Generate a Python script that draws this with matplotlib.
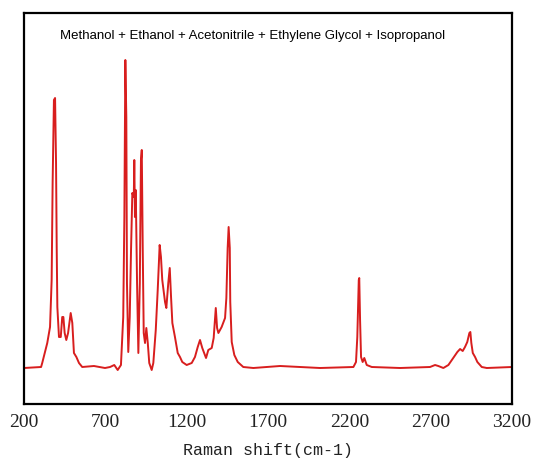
import matplotlib
matplotlib.use("Agg")
import matplotlib.pyplot as plt

# Spectre Raman du mélange
shift = [200, 305, 312, 343, 360, 370, 376, 384, 391, 397, 401, 405, 415, 426, 435, 442,
         450, 460, 471, 487, 497, 507, 522, 538, 558, 630, 698, 729, 755, 776, 796, 810,
         817, 823, 829, 833, 841, 850, 858, 866, 875, 878, 882, 887, 895, 903, 912, 919,
         924, 930, 936, 944, 952, 961, 970, 985, 995, 1010, 1022, 1034, 1042, 1050, 1067,
         1075, 1087, 1096, 1104, 1112, 1128, 1145, 1159, 1173, 1200, 1231, 1251, 1268,
         1282, 1296, 1319, 1333, 1354, 1366, 1379, 1387, 1395, 1415, 1436, 1444, 1452,
         1458, 1465, 1468, 1477, 1493, 1514, 1548, 1610, 1774, 2020, 2225, 2241, 2249,
         2258, 2261, 2266, 2272, 2282, 2292, 2307, 2338, 2512, 2696, 2727, 2747, 2778,
         2809, 2839, 2864, 2881, 2897, 2911, 2925, 2938, 2944, 2950, 2959, 2973, 2987,
         3014, 3045, 3200]
intensity = [36, 37, 41, 61, 77, 124, 221, 304, 306, 241, 157, 97, 67, 67, 87, 87,
             71, 64, 71, 91, 81, 51, 47, 41, 37, 38, 36, 37, 39, 34, 39, 87,
             187, 344, 287, 121, 52, 87, 154, 211, 207, 244, 187, 214, 121, 51, 121, 244,
             254, 154, 71, 61, 76, 61, 41, 34, 41, 74, 114, 159, 147, 124, 102,
             96, 121, 136, 107, 81, 67, 51, 47, 42, 39, 41, 47, 57,
             64, 56, 46, 54, 56, 66, 96, 76, 71, 77, 86, 106, 156,
             177, 156, 102, 62, 49, 42, 37, 36, 38, 36, 37, 42, 67,
             124, 126, 84, 47, 42, 46, 39, 37, 36, 37, 39, 38, 36,
             39, 46, 52, 55, 53, 57, 62, 71, 72, 61, 51, 47, 42,
             37, 36, 37]

xticks = [200, 700, 1200, 1700, 2200, 2700, 3200]
titre = "Methanol + Ethanol + Acetonitrile + Ethylene Glycol + Isopropanol"

fig = plt.figure(figsize=(5.34, 4.59), dpi=100)
ax = fig.add_axes([24/534, 55/459, 488/534, 391.5/459])

ax.plot(shift, intensity, color="#d81e1e", linewidth=1.4)

ax.set_xlim(200, 3200)
ax.set_ylim(0, 391.5)
ax.set_xticks(xticks)
ax.set_xticklabels([str(t) for t in xticks], family="Liberation Serif", fontsize=14)
ax.set_yticks([])
ax.tick_params(axis="x", length=0, pad=7, colors="#222222")
for s in ax.spines.values():
    s.set_linewidth(1.6)
    s.set_color("black")

ax.set_xlabel("Raman shift(cm-1)", family="Liberation Mono", fontsize=12, labelpad=9,
              color="#222222")
ax.text(0.469, 0.941, titre, transform=ax.transAxes, ha="center", va="center",
        family="Liberation Sans", fontsize=9.5)

fig.savefig("out.png", dpi=100)
